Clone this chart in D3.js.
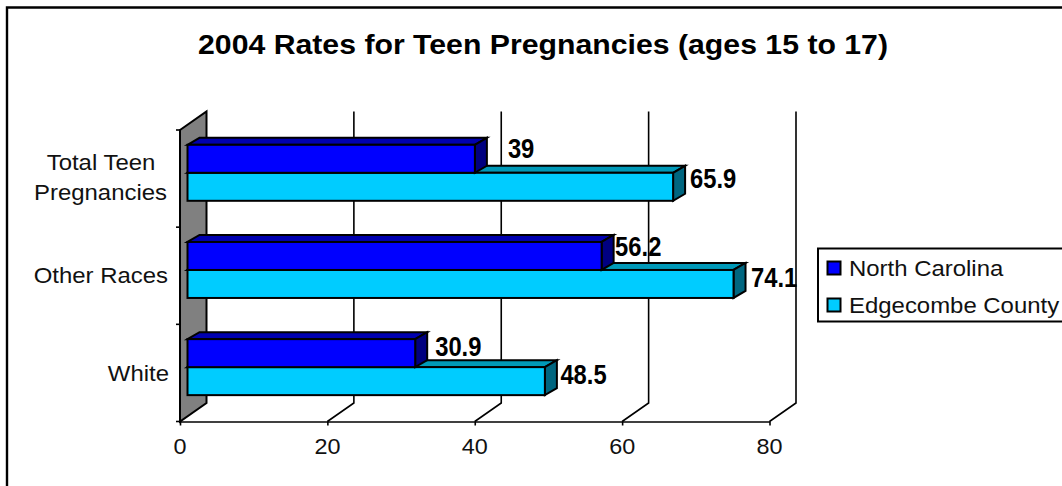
<!DOCTYPE html>
<html><head><meta charset="utf-8">
<script src="https://cdn.jsdelivr.net/npm/d3@7"></script>
<style>html,body{margin:0;padding:0;background:#fff}svg{display:block}text{font-family:"Liberation Sans",Arial,sans-serif;fill:#000}</style>
</head><body><svg id="c" width="1062" height="486"></svg>
<script>
const categories = ["Total Teen Pregnancies", "Other Races", "White"];
const categoryLines = [["Total Teen", "Pregnancies"], ["Other Races"], ["White"]];
const seriesNames = ["North Carolina", "Edgecombe County"];
const northCarolina = [39, 56.2, 30.9];
const edgecombeCounty = [65.9, 74.1, 48.5];
const valueTicks = [0, 20, 40, 60, 80];
const title = "2004 Rates for Teen Pregnancies (ages 15 to 17)";
const frontColors = ["#0000ff", "#00ccff"];
const topColors = ["#0000b0", "#0099b8"];
const sideColors = ["#000080", "#006680"];

const svg = d3.select("#c");
const W = 1062, H = 486;
const x = d3.scaleLinear().domain([0, 80]).range([180, 769.5]);
const yBand = d3.scaleBand().domain(categories).range([130, 421.5]);
const wallDx = 26.5, wallDy = -18.5, barDx = 12, barDy = -7, barOffX = 7.5;
const barH = 28, groupOffset = 14.8;
const poly = p => p.map(d => d.join(",")).join(" ");
const stroke = {stroke: "#000", "stroke-width": 2, "stroke-linejoin": "miter"};
const applyAttrs = (s, a) => { Object.entries(a).forEach(([k, v]) => s.attr(k, v)); return s; };

// stretched text, anchored by its transform
function wideText(tx, ty, str, size, sx, anchor) {
  return svg.append("text").attr("transform", `translate(${tx},${ty}) scale(${sx},1)`)
    .attr("text-anchor", anchor || "start").attr("font-size", size).style("fill", "#111").text(str);
}

// frame
svg.append("path").attr("d", `M${7},${H + 5}V${7.5}H${W + 5}`).attr("fill", "none").attr("stroke", "#000").attr("stroke-width", 2.4);

// title
wideText(543, 54, title, 27, 1.12, "middle").attr("font-weight", "bold").style("fill", "#000");

const y0 = yBand.range()[0], y1 = yBand.range()[1];
// gridlines
const grid = svg.append("g");
valueTicks.slice(1).forEach(t => {
  applyAttrs(grid.append("polyline"), {...stroke, fill: "none", "stroke-width": 1.6})
    .attr("points", poly([[x(t), y1], [x(t) + wallDx, y1 + wallDy], [x(t) + wallDx, y0 + wallDy]]));
});
// wall
applyAttrs(svg.append("polygon"), {...stroke, fill: "#808080"})
  .attr("points", poly([[x(0), y0], [x(0) + wallDx, y0 + wallDy], [x(0) + wallDx, y1 + wallDy], [x(0), y1]]));

// floor axis
const axisB = d3.axisBottom(x).tickValues(valueTicks).tickSize(4).tickFormat("").tickSizeOuter(0);
const gB = svg.append("g").attr("transform", `translate(0,${y1})`).call(axisB);
gB.selectAll("path,line").attr("stroke", "#000").attr("stroke-width", 1.6);
valueTicks.forEach(t => wideText(x(t), 454, String(t), 22.5, 1.04, "middle"));

// category ticks
const catTicks = categories.map(c => yBand(c)).concat([y1]);
catTicks.forEach(t => svg.append("line").attr("x1", 176).attr("x2", 180).attr("y1", t).attr("y2", t).attr("stroke", "#000").attr("stroke-width", 1.6));

// category labels
const catSize = 22.5, catSx = 1.064;
wideText(101, 170, categoryLines[0][0], catSize, catSx, "middle");
wideText(100.5, 200, categoryLines[0][1], catSize, catSx, "middle");
wideText(168, 283, categoryLines[1][0], catSize, catSx, "end");
wideText(169, 381, categoryLines[2][0], catSize, catSx, "end");

// bars
function bar(v, top, s) {
  const l = x(0) + barOffX, r = x(v) + barOffX, b = top + barH;
  applyAttrs(svg.append("polygon"), {...stroke, fill: topColors[s]})
    .attr("points", poly([[l, top], [l + barDx, top + barDy], [r + barDx, top + barDy], [r, top]]));
  applyAttrs(svg.append("polygon"), {...stroke, fill: sideColors[s]})
    .attr("points", poly([[r, top], [r + barDx, top + barDy], [r + barDx, b + barDy], [r, b]]));
  applyAttrs(svg.append("rect"), {...stroke, fill: frontColors[s]})
    .attr("x", l).attr("y", top).attr("width", r - l).attr("height", barH);
}
const groupTop = c => yBand(c) + groupOffset;
categories.forEach((c, i) => {
  const t = groupTop(c);
  bar(edgecombeCounty[i], t + barH, 1);
  bar(northCarolina[i], t, 0);
});

// value labels: each sits at its own offset from the bar end
const nudgeX = [[21, 1.5, 8], [5, 5.5, 3.5]];
const nudgeY = [[13.2, 14, 17], [15.2, 17, 17]];
categories.forEach((c, i) => {
  const t = groupTop(c);
  [northCarolina, edgecombeCounty].forEach((vals, s) => {
    const v = vals[i];
    wideText(x(v) + barOffX + barDx + nudgeX[s][i], t + s * barH + nudgeY[s][i], String(v), 27, 0.88)
      .attr("font-weight", "bold").style("fill", "#000");
  });
});

// legend
svg.append("rect").attr("x", 818).attr("y", 248.5).attr("width", 260).attr("height", 73)
  .attr("fill", "#fff").attr("stroke", "#000").attr("stroke-width", 2);
const legY = d3.scalePoint().domain(seriesNames).range([268, 305]);
seriesNames.forEach((n, i) => {
  applyAttrs(svg.append("rect"), {...stroke, fill: frontColors[i]})
    .attr("x", 827.5).attr("y", legY(n) - 6.5).attr("width", 13).attr("height", 13);
  wideText(849, legY(n) + 8, n, 22.5, 1.064);
});
</script></body></html>
